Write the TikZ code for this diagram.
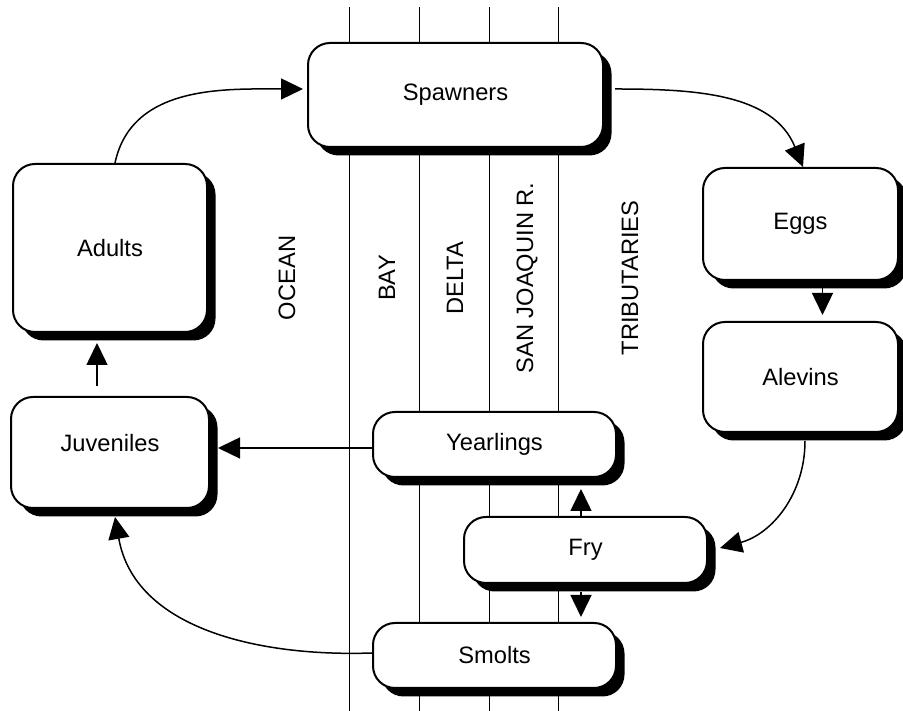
\documentclass[tikz,border=0pt]{standalone}
\usepackage{fontspec}
\setmainfont{Liberation Sans}
\usetikzlibrary{arrows.meta,positioning,shadows}

\begin{document}
\begin{tikzpicture}[
      x=1pt,y=1pt,
      font=\fontsize{23.7}{28}\selectfont,
      stage/.style={draw,line width=2pt,rounded corners=22pt,fill=white,align=center,
        drop shadow={shadow xshift=8.5pt,shadow yshift=-8.5pt,opacity=1,fill=black}},
      zone/.style={rotate=90},
      flow/.style={line width=1.5pt,-{Triangle[length=22pt,width=21pt]}}]
    \useasboundingbox (0,0) rectangle (903,711);
    % river zones
    \foreach \xz in {349,419,489,558}
      \draw[line width=0.8pt] (\xz,0) -- (\xz,704);
    \node[zone] (ocean) at (287,433) {OCEAN};
    \node[zone] (bay) at (387,433) {BAY};
    \node[zone] (delta) at (455,433) {DELTA};
    \node[zone] (sjr) at (527,433) {SAN JOAQUIN R.};
    \node[zone] (trib) at (630,433) {TRIBUTARIES};
    % life stages
    \node[stage,minimum width=295pt,minimum height=104pt] (spawn) at (455.5,616) {Spawners};
    \node[stage,minimum width=194pt,minimum height=168pt] (adults) at (110,463) {Adults};
    \node[stage,minimum width=198pt,minimum height=111pt,text depth=19pt,below=63pt of adults] (juv) {Juveniles};
    \node[stage,minimum width=195pt,minimum height=112pt] (eggs) at (800.5,487) {Eggs};
    \node[stage,minimum width=195pt,minimum height=110pt,below=40pt of eggs] (alevins) {Alevins};
    \node[stage,minimum width=243pt,minimum height=65pt] (year) at (494.5,266.5) {Yearlings};
    \node[stage,minimum width=243pt,minimum height=66pt] (fry) at (585.5,161) {Fry};
    \node[stage,minimum width=243pt,minimum height=65pt] (smolts) at (494.5,55.5) {Smolts};
    \coordinate (fryt) at ([xshift=-4.5pt]fry.north);
    \coordinate (fryb) at ([xshift=-4.5pt,yshift=-8.5pt]fry.south);
    \coordinate (juvt) at ([xshift=-13pt,yshift=10pt]juv.north);
    % transitions
    \draw[flow,shorten >=4pt] ([xshift=5pt]adults.north) to[out=78,in=180] ([yshift=6pt]spawn.west);
    \draw[flow] ([xshift=11pt,yshift=6pt]spawn.east) to[out=0,in=112] ([xshift=2.5pt]eggs.north);
    \draw[flow,shorten >=6pt] ([xshift=22pt,yshift=-7pt]eggs.south) -- ([xshift=22pt]alevins.north);
    \draw[flow] ([xshift=4.5pt,yshift=-8pt]alevins.south) to[out=-90,in=15] ([xshift=12pt,yshift=2pt]fry.east);
    \draw[flow,shorten >=11pt] (fryt) -- (fryt |- year.south);
    \draw[flow,shorten >=5pt] (fryb) -- (fryb |- smolts.north);
    \draw[flow,shorten >=8pt] ([yshift=-3.5pt]year.west) -- ([yshift=-3.5pt]year.west -| juv.east);
    \draw[flow] ([yshift=2.5pt]smolts.west) to[out=182,in=-80] ([xshift=5pt,yshift=-8pt]juv.south);
    \draw[flow,shorten >=10pt] (juvt) -- (juvt |- adults.south);
  \end{tikzpicture}
\end{document}
